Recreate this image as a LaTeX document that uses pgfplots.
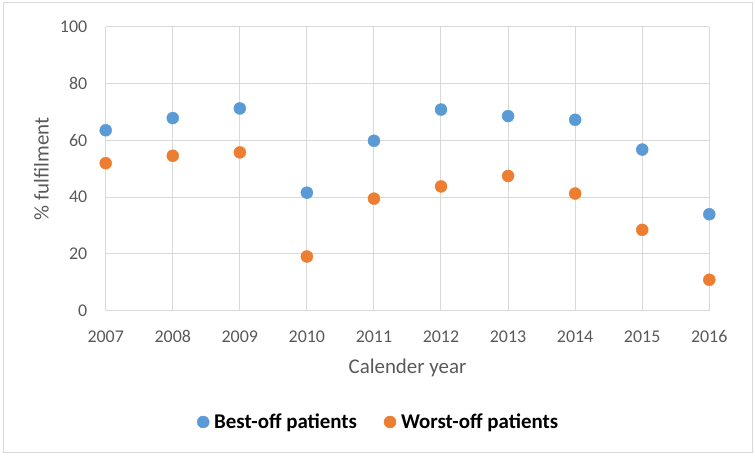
\documentclass[border=0pt]{standalone}
\usepackage{pgfplots}
\pgfplotsset{compat=1.18}
\usepackage{fontspec}
\setmainfont{Carlito}
\definecolor{cblue}{HTML}{5B9BD5}
\definecolor{corange}{HTML}{ED7D31}
\definecolor{tgray}{HTML}{595959}
\definecolor{ggray}{HTML}{D9D9D9}
\begin{document}
\begin{tikzpicture}
\path[use as bounding box] (0bp,0bp) rectangle (755bp,456bp);
\draw[ggray,line width=1bp] (3bp,3bp) rectangle (752bp,453bp);
\begin{axis}[
  at={(105.7bp,145.3bp)}, anchor=south west,
  scale only axis, width=603.6bp, height=283.7bp,
  xmin=2007, xmax=2016, ymin=0, ymax=100,
  xtick={2007,...,2016}, ytick={0,20,...,100},
  /pgf/number format/assume math mode=true,
  /pgf/number format/1000 sep={},
  tick label style={font=\fontsize{18}{20}\selectfont, text=tgray},
  yticklabel style={xshift=-15bp},
  xticklabel style={yshift=-16.5bp},
  grid=major, grid style={ggray,line width=1bp},
  axis line style={draw=none},
  axis x line*=bottom, axis y line*=left,
  major tick length=0pt,
  clip=false,
  xlabel={Calender year}, ylabel={\% fulfilment},
  label style={font=\fontsize{21}{23}\selectfont, text=tgray},
  xlabel style={at={(axis description cs:0.5,-0.2196)}, anchor=base},
  ylabel style={at={(axis description cs:-0.1064,0.5)}, anchor=center, rotate=0},
  legend columns=2,
  legend image code/.code={\draw[#1, mark size=6bp] plot coordinates {(0bp,0bp)};},
  legend style={at={(0.1513,-0.3923)}, anchor=west, draw=none, fill=none, inner sep=0pt,
    font=\fontsize{21}{23}\selectfont\bfseries, text=black,
    /tikz/every odd column/.append style={column sep=3bp},
    /tikz/every even column/.append style={column sep=25bp}},
  legend cell align=left,
]
\draw[ggray,line width=1.5bp] (axis cs:2007,0) -- (axis cs:2016,0);
\addplot[only marks, mark=*, mark size=6bp, mark options={draw=cblue, fill=cblue}, color=cblue] coordinates {
(2007,63.6) (2008,67.9) (2009,71.3) (2010,41.6) (2011,59.9)
(2012,70.9) (2013,68.6) (2014,67.3) (2015,56.8) (2016,34.0)
};
\addlegendentry{Best-off patients}
\addplot[only marks, mark=*, mark size=6bp, mark options={draw=corange, fill=corange}, color=corange] coordinates {
(2007,52.0) (2008,54.6) (2009,55.8) (2010,19.1) (2011,39.5)
(2012,43.8) (2013,47.5) (2014,41.3) (2015,28.5) (2016,10.9)
};
\addlegendentry{Worst-off patients}
\end{axis}
\end{tikzpicture}
\end{document}
